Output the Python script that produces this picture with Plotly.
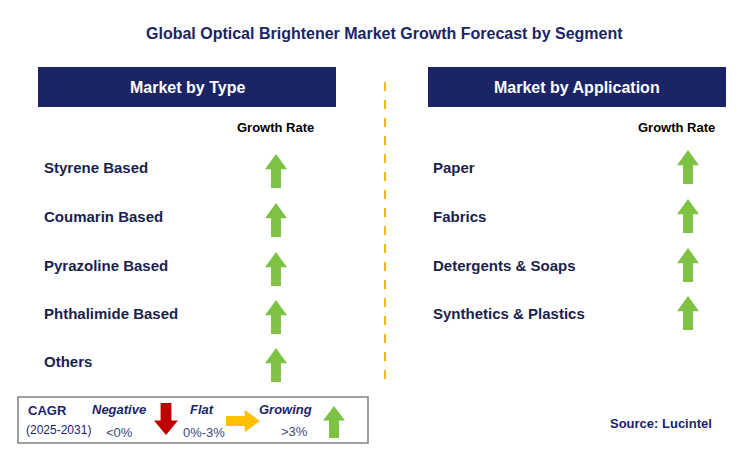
import plotly.graph_objects as go

title = "Global Optical Brightener Market Growth Forecast by Segment"
type_labels = ["Styrene Based", "Coumarin Based", "Pyrazoline Based", "Phthalimide Based", "Others"]
type_growth = ["up", "up", "up", "up", "up"]
app_labels = ["Paper", "Fabrics", "Detergents & Soaps", "Synthetics & Plastics"]
app_growth = ["up", "up", "up", "up"]
type_rows_y = [167, 216, 265, 313, 361]
app_rows_y = [167, 216, 265, 313]

NAVY = "#1B2566"
TXT = "#1A1F4E"
GREEN = "#7DC242"

fig = go.Figure()
shapes = []
ann = []

def arrow(cx, cy, kind, w=22, h=34, color=GREEN):
    sw = w * 0.45
    hh = h * 0.45
    if kind == "up":
        top, bot = cy - h/2, cy + h/2
        p = f"M{cx},{top} L{cx+w/2},{top+hh} L{cx+sw/2},{top+hh} L{cx+sw/2},{bot} L{cx-sw/2},{bot} L{cx-sw/2},{top+hh} L{cx-w/2},{top+hh} Z"
    elif kind == "down":
        top, bot = cy - h/2, cy + h/2
        p = f"M{cx},{bot} L{cx+w/2},{bot-hh} L{cx+sw/2},{bot-hh} L{cx+sw/2},{top} L{cx-sw/2},{top} L{cx-sw/2},{bot-hh} L{cx-w/2},{bot-hh} Z"
    else:
        l, r = cx - h/2, cx + h/2
        p = f"M{r},{cy} L{r-hh},{cy-w/2} L{r-hh},{cy-sw/2} L{l},{cy-sw/2} L{l},{cy+sw/2} L{r-hh},{cy+sw/2} L{r-hh},{cy+w/2} Z"
    shapes.append(dict(type="path", path=p, fillcolor=color, line=dict(width=0), xref="x", yref="y"))

def text(x, y, s, size=15, color=TXT, bold=True, xa="left", italic=False):
    t = f"<b>{s}</b>" if bold else s
    if italic:
        t = f"<i>{t}</i>"
    ann.append(dict(x=x, y=y, xref="x", yref="y", text=t, showarrow=False, xanchor=xa, yanchor="middle",
                    font=dict(size=size, color=color, family="Arial, Liberation Sans")))

text(384, 33, title, size=16, color=NAVY, xa="center")
for x0, x1, lab in [(38, 336, "Market by Type"), (428, 726, "Market by Application")]:
    shapes.append(dict(type="rect", x0=x0, x1=x1, y0=67, y1=107, fillcolor=NAVY, line=dict(width=0)))
    text((x0 + x1) / 2, 87, lab, size=16, color="white", xa="center")
text(275, 127, "Growth Rate", size=13, color="black", xa="center")
text(676, 127, "Growth Rate", size=13, color="black", xa="center")
for lab, g, y in zip(type_labels, type_growth, type_rows_y):
    text(42, y, lab)
    arrow(276, y + 4, g)
for lab, g, y in zip(app_labels, app_growth, app_rows_y):
    text(431, y, lab)
    arrow(688, y, g)
shapes.append(dict(type="line", x0=385, x1=385, y0=82, y1=382, line=dict(color="#F5B800", width=2, dash="dash")))

# legend box
shapes.append(dict(type="rect", x0=18, x1=368, y0=397, y1=443, line=dict(color="#808080", width=1.5), fillcolor="white"))
text(26, 410, "CAGR", size=13, color=NAVY)
text(24, 430, "(2025-2031)", size=12, color=NAVY, bold=False)
text(119, 409, "Negative", size=13, color=NAVY, xa="center", italic=True)
text(119, 432, "&lt;0%", size=13, color="#3A4A7A", bold=False, xa="center")
arrow(166, 419, "down", w=24, h=32, color="#C00000")
text(202, 409, "Flat", size=13, color=NAVY, xa="center", italic=True)
text(204, 432, "0%-3%", size=13, color="#3A4A7A", bold=False, xa="center")
arrow(243, 421, "right", w=22, h=34, color="#FFC000")
text(285, 409, "Growing", size=13, color=NAVY, xa="center", italic=True)
text(294, 431, "&gt;3%", size=13, color="#3A4A7A", bold=False, xa="center")
arrow(334, 422, "up", w=22, h=32)
text(714, 423, "Source: Lucintel", size=13, color=NAVY, xa="right")

fig.update_layout(width=738, height=461, margin=dict(l=0, r=0, t=0, b=0),
                  plot_bgcolor="white", paper_bgcolor="white", shapes=shapes, annotations=ann,
                  xaxis=dict(range=[8, 746], visible=False, fixedrange=True),
                  yaxis=dict(range=[469, 8], visible=False, fixedrange=True),
                  showlegend=False)
fig.write_html("out.html")
